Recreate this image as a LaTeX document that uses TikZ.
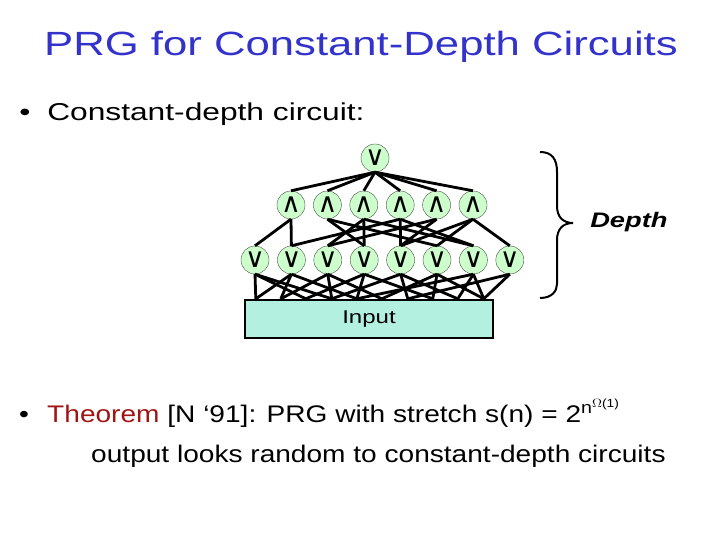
\documentclass[tikz,border=0pt]{standalone}
\usepackage{fontspec}
\setmainfont{Liberation Sans}
\newfontfamily\gatefont{DejaVu Sans}
\usetikzlibrary{positioning}
\definecolor{titleblue}{RGB}{51,51,204}
\definecolor{thmred}{RGB}{160,20,20}
\definecolor{gategreen}{RGB}{204,255,204}
\definecolor{inputteal}{RGB}{179,240,224}
\tikzset{
  gate/.style={circle, draw=black!70, thin, fill=gategreen, minimum size=28pt,
               inner sep=0pt, font=\gatefont\fontsize{27}{27}\selectfont},
  wire/.style={line width=2.8pt, black},
  inputbox/.style={rectangle, draw=black, line width=2.4pt, fill=inputteal,
                   minimum width=248pt, minimum height=38pt,
                   font=\fontsize{18.5}{20}\selectfont},
  slidetext/.style={anchor=base west, inner sep=0pt, xscale=1.3},
  titletext/.style={anchor=base, inner sep=0pt, xscale=1.3, text=titleblue,
                    font=\fontsize{33.6}{40}\selectfont},
}

\begin{document}
\begin{tikzpicture}[x=1pt, y=1pt, node distance=8pt]
  \useasboundingbox (0,0) rectangle (720,540);

  % Title and first bullet
  \node[titletext] (title) at (361,484) {PRG for Constant-Depth Circuits};
  \node[slidetext, font=\fontsize{24.4}{28}\selectfont] (bul1) at (19,419) {•};
  \node[slidetext, font=\fontsize{24.4}{28}\selectfont] (item1) at (47,419) {Constant-depth circuit:};

  % Gates
  \node[gate] (top) at (375,382) {∨};
  \node[gate] (a1) at (291,335) {∧};
  \node[gate, right=of a1] (a2) {∧};
  \node[gate, right=of a2] (a3) {∧};
  \node[gate, right=of a3] (a4) {∧};
  \node[gate, right=of a4] (a5) {∧};
  \node[gate, right=of a5] (a6) {∧};
  \node[gate] (o1) at (255,280) {∨};
  \node[gate, right=of o1] (o2) {∨};
  \node[gate, right=of o2] (o3) {∨};
  \node[gate, right=of o3] (o4) {∨};
  \node[gate, right=of o4] (o5) {∨};
  \node[gate, right=of o5] (o6) {∨};
  \node[gate, right=of o6] (o7) {∨};
  \node[gate, right=of o7] (o8) {∨};

  % Input box and wire ends on its top
  \node[inputbox] (in) at (369,221) {\scalebox{1.3}[1]{Input}};
  \coordinate (p0) at ([xshift=12pt]in.north west);
  \coordinate (p1) at ([xshift=37pt]in.north west);
  \coordinate (p2) at ([xshift=62pt]in.north west);
  \coordinate (p3) at ([xshift=88pt]in.north west);
  \coordinate (p4) at ([xshift=113pt]in.north west);
  \coordinate (p5) at ([xshift=138pt]in.north west);
  \coordinate (p6) at ([xshift=164pt]in.north west);
  \coordinate (p7) at ([xshift=189pt]in.north west);
  \coordinate (p8) at ([xshift=214pt]in.north west);
  \coordinate (p9) at ([xshift=240pt]in.north west);

  % Wires: top layer
  \draw[wire] (top.south) -- (a1.north);
  \draw[wire] (top.south) -- (a2.north);
  \draw[wire] (top.south) -- (a3.north);
  \draw[wire] (top.south) -- (a4.north);
  \draw[wire] (top.south) -- (a5.north);
  \draw[wire] (top.south) -- (a6.north);

  % Wires: and layer to or layer
  \draw[wire] (a1.south) -- (o1.north);
  \draw[wire] (a1.south) -- (o2.north);
  \draw[wire] (a2.south) -- (o4.north);
  \draw[wire] (a2.south) -- (o6.north);
  \draw[wire] (a3.south) -- (o3.north);
  \draw[wire] (a3.south) -- (o4.north);
  \draw[wire] (a3.south) -- (o7.north);
  \draw[wire] (a4.south) -- (o2.north);
  \draw[wire] (a4.south) -- (o5.north);
  \draw[wire] (a4.south) -- (o7.north);
  \draw[wire] (a5.south) -- (o3.north);
  \draw[wire] (a5.south) -- (o5.north);
  \draw[wire] (a6.south) -- (o5.north);
  \draw[wire] (a6.south) -- (o6.north);
  \draw[wire] (a6.south) -- (o8.north);

  % Wires: or layer to input
  \draw[wire] (o1.south) -- (p0);
  \draw[wire] (o1.south) -- (p2);
  \draw[wire] (o1.south) -- (p3);
  \draw[wire] (o2.south) -- (p0);
  \draw[wire] (o2.south) -- (p1);
  \draw[wire] (o2.south) -- (p4);
  \draw[wire] (o3.south) -- (p1);
  \draw[wire] (o3.south) -- (p3);
  \draw[wire] (o3.south) -- (p5);
  \draw[wire] (o4.south) -- (p2);
  \draw[wire] (o4.south) -- (p4);
  \draw[wire] (o4.south) -- (p7);
  \draw[wire] (o5.south) -- (p3);
  \draw[wire] (o5.south) -- (p6);
  \draw[wire] (o5.south) -- (p8);
  \draw[wire] (o6.south) -- (p5);
  \draw[wire] (o6.south) -- (p7);
  \draw[wire] (o6.south) -- (p9);
  \draw[wire] (o7.south) -- (p4);
  \draw[wire] (o7.south) -- (p8);
  \draw[wire] (o7.south) -- (p9);
  \draw[wire] (o8.south) -- (p6);
  \draw[wire] (o8.south) -- (p9);

  % Depth brace
  \coordinate (btop) at (540,388);
  \coordinate (btip) at (573,317);
  \coordinate (bbot) at (540,242);
  \draw[line width=2pt] (btop) .. controls (552,388) and (557,381) .. (557,368)
    -- (557,334) .. controls (557,323) and (563,317) .. (btip)
    .. controls (563,317) and (557,311) .. (557,300)
    -- (557,256) .. controls (557,249) and (552,242) .. (bbot);
  \node[slidetext, font=\bfseries\itshape\fontsize{21}{24}\selectfont] (depth) at (590,312) {Depth};

  % Theorem bullet
  \node[slidetext, font=\fontsize{24}{28}\selectfont, xscale=0.9] (bul2) at (19,117) {•};
  \node[slidetext, font=\fontsize{24}{28}\selectfont, xscale=0.9] (thm) at (47,117)
    {\textcolor{thmred}{Theorem} [N ‘91]: PRG with stretch s(n) = 2\textsuperscript{n\textsuperscript{$\Omega$(1)}}};
  \node[slidetext, font=\fontsize{24}{28}\selectfont, xscale=0.9] (thm2) at (91,77)
    {output looks random to constant-depth circuits};
\end{tikzpicture}
\end{document}
